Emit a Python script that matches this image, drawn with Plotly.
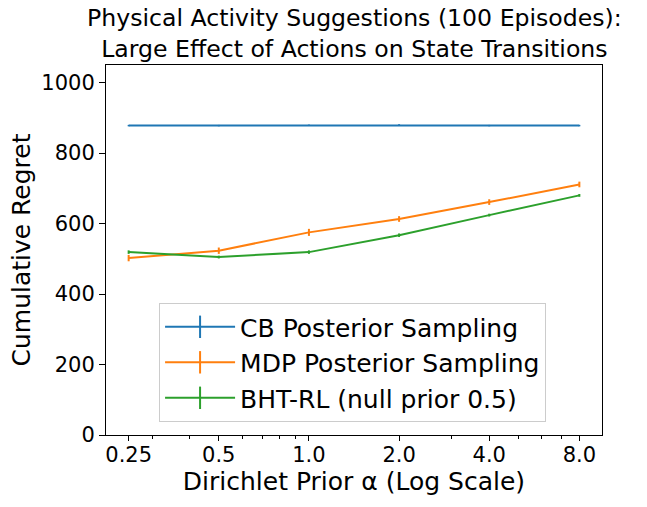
import plotly.graph_objects as go

alpha = [0.25, 0.5, 1.0, 2.0, 4.0, 8.0]
tick_text = ["0.25", "0.5", "1.0", "2.0", "4.0", "8.0"]

cb_regret = [878, 878, 879, 880, 878, 878]
cb_err = [2, 2, 2, 2, 2, 2]
mdp_regret = [502, 523, 575, 613, 661, 711]
mdp_err = [9, 9, 10, 8, 8, 8]
bht_regret = [519, 505, 519, 567, 624, 680]
bht_err = [5, 4, 5, 5, 4, 4]

names = ["CB Posterior Sampling", "MDP Posterior Sampling", "BHT-RL (null prior 0.5)"]
colors = ["#1f77b4", "#ff7f0e", "#2ca02c"]
series = [(cb_regret, cb_err), (mdp_regret, mdp_err), (bht_regret, bht_err)]

fig = go.Figure()
for name, color, (vals, errs) in zip(names, colors, series):
    fig.add_trace(go.Scatter(
        x=alpha, y=vals, mode="lines", name=name, showlegend=False,
        line=dict(color=color, width=2),
        error_y=dict(type="data", array=errs, color=color, thickness=2, width=0),
    ))
# legend entries styled like matplotlib errorbar handles
for name, color in zip(names, colors):
    fig.add_trace(go.Scatter(
        x=[None], y=[None], mode="lines+markers", name=name,
        line=dict(color=color, width=2),
        marker=dict(symbol="line-ns", size=24, line=dict(color=color, width=2)),
    ))

fig.update_layout(
    width=647, height=507,
    margin=dict(l=106, r=45, t=65, b=72, autoexpand=False),
    paper_bgcolor="white", plot_bgcolor="white",
    font=dict(family="DejaVu Sans", size=21, color="black"),
    legend=dict(
        x=0.107, y=0.035, xanchor="left", yanchor="bottom",
        bgcolor="rgba(255,255,255,0.8)", bordercolor="#cccccc", borderwidth=1,
        font=dict(size=25), tracegroupgap=0, itemwidth=70,
    ),
)
fig.add_annotation(
    text="Physical Activity Suggestions (100 Episodes):<br>Large Effect of Actions on State Transitions",
    xref="paper", yref="paper", x=0.5, y=1, xanchor="center", yanchor="bottom",
    yshift=0, showarrow=False, font=dict(size=23.6),
)
fig.update_xaxes(
    type="log", range=[-0.6777, 0.9787],
    tickvals=alpha, ticktext=tick_text,
    ticks="outside", ticklen=5, tickcolor="black", ticklabelstandoff=-4,
    showline=True, linecolor="black", mirror=True, showgrid=False, zeroline=False,
    minor=dict(tickvals=[0.3, 0.4, 0.6, 0.7, 0.8, 0.9, 3, 5, 6, 7],
               ticks="outside", ticklen=3, tickcolor="black", showgrid=False),
    title=dict(text="Dirichlet Prior α (Log Scale)", font=dict(size=25), standoff=4),
)
fig.update_yaxes(
    range=[0, 1050], tickvals=[0, 200, 400, 600, 800, 1000],
    ticks="outside", ticklen=6, tickcolor="black",
    showline=True, linecolor="black", mirror=True, showgrid=False, zeroline=False,
    title=dict(text="Cumulative Regret", font=dict(size=25), standoff=3),
)

# drop the default 8px page margin so the figure fills the window
fig.write_html("out.html", config={"displayModeBar": False},
               post_script="document.body.style.margin = '0';")
